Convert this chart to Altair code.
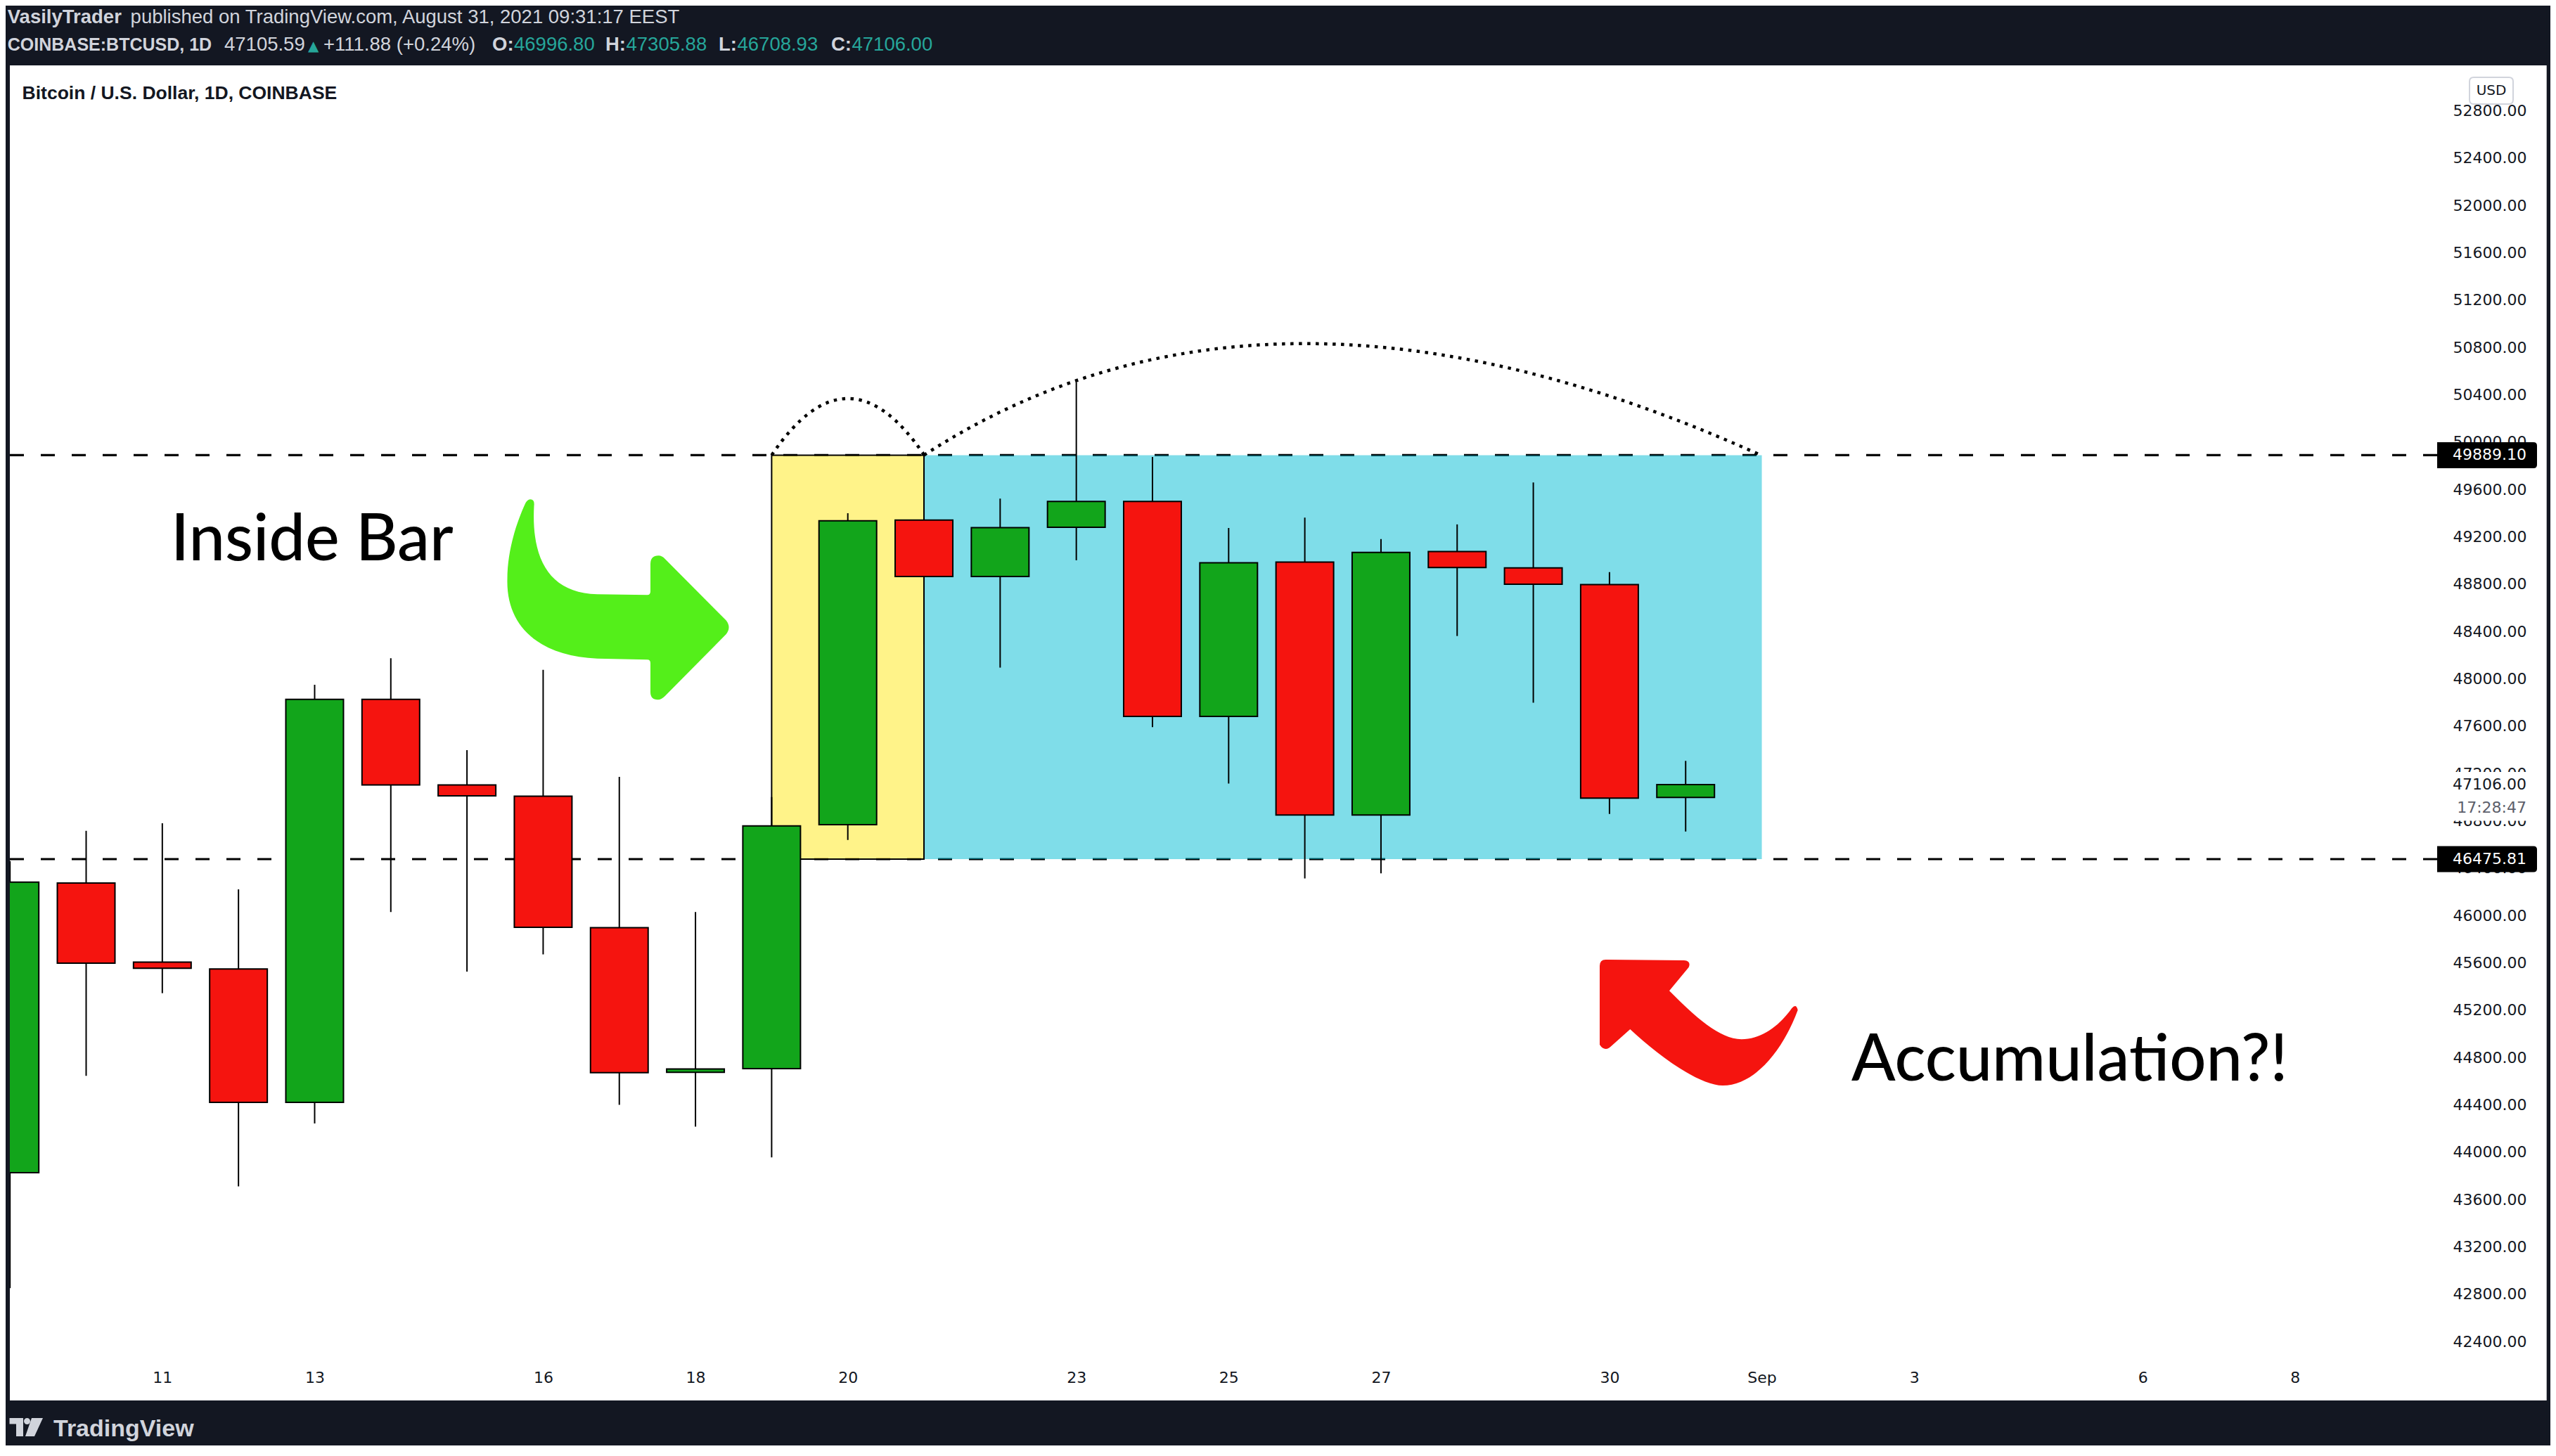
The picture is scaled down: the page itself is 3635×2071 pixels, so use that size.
import altair as alt
import pandas as pd

# ---------------- data ----------------
days = list(range(9, 32))  # August 2021, day of month
opens = [43826, 46274, 45605, 45548, 44420, 47826, 47103, 47007, 45896, 44675, 44706,
         46767, 49340, 48864, 49280, 49498, 47682, 48986, 46849, 49074, 48937, 48795, 46996.80]
highs = [46460, 46715, 46779, 46220, 47949, 48173, 47396, 48075, 47171, 46029, 47000,
         49398, 49780, 49522, 50507, 49874, 49274, 49361, 49180, 49304, 49659, 48901, 47305.88]
lows = [42850, 44645, 45343, 43710, 44242, 46029, 45525, 45671, 44399, 44215, 43956,
        46637, 48290, 48094, 49001, 47591, 47115, 46313, 46355, 48361, 47797, 46858, 46708.93]
closes = [46281, 45596, 45554, 44420, 47826, 47103, 47011, 45900, 44672, 44703, 46756,
          49334, 48864, 49276, 49498, 47682, 48980, 46849, 49067, 48940, 48798, 46991, 47106.00]

level_prices = [49889.10, 46475.81]
level_labels = ["49889.10", "46475.81"]
last_price = 47106.00
last_label = "47106.00"
countdown = "17:28:47"

yellow_box = {"x0": [19], "x1": [21], "y0": [46475.81], "y1": [49889.10]}
cyan_box = {"x0": [21], "x1": [32], "y0": [46475.81], "y1": [49889.10]}
arc_small_anchor = {"day": [19], "price": [49889.10]}
arc_big_anchor = {"day": [21], "price": [49889.10]}

x_tick_values = [11, 13, 16, 18, 20, 23, 25, 27, 30, 32, 34, 37, 39]
y_tick_values = list(range(42400, 53200, 400))

header_1_bold = "VasilyTrader"
header_1_rest = "published on TradingView.com, August 31, 2021 09:31:17 EEST"
header_2_symbol = "COINBASE:BTCUSD, 1D"
header_2_price = "47105.59"
header_2_change = "+111.88 (+0.24%)"
ohlc_keys = ["O:", "H:", "L:", "C:"]
ohlc_vals = ["46996.80", "47305.88", "46708.93", "47106.00"]
title_text = "Bitcoin / U.S. Dollar, 1D, COINBASE"
note_inside = "Inside Bar"
note_accum = "Accumulation?!"

# ---------------- styling ----------------
W, H = 3619, 2048
DARK = "#131722"
LIGHT = "#d1d4dc"
TEAL = "#26a69a"
UP = "#12a51b"
DOWN = "#f5140f"

xs = alt.Scale(domain=[8.989, 42.307], nice=False, zero=False)
ys = alt.Scale(domain=[41521.5, 53687.4], nice=False, zero=False)

xa = alt.Axis(orient="bottom", values=x_tick_values,
              labelExpr="datum.value == 32 ? 'Sep' : (datum.value > 31 ? toString(datum.value - 31) : toString(datum.value))",
              offset=-97, ticks=False, tickSize=0, domain=False, grid=False,
              labelBaseline="middle", labelPadding=0, labelFont="DejaVu Sans",
              labelFontSize=22, labelColor=DARK, title=None, labelFlush=False,
              labelOverlap=False)
ya = alt.Axis(orient="right", values=y_tick_values, format=".2f", offset=-34,
              ticks=False, tickSize=0, domain=False, grid=False, labelAlign="right",
              labelBaseline="middle", labelPadding=0, labelFont="DejaVu Sans",
              labelFontSize=22, labelColor=DARK, title=None, labelOverlap=False,
              labelFlush=False)

df = pd.DataFrame({"day": days, "open": opens, "high": highs, "low": lows, "close": closes})
df["color"] = [UP if c >= o else DOWN for o, c in zip(opens, closes)]


def X(f):
    return alt.X(f, scale=xs, axis=xa)


def Y(f):
    return alt.Y(f, scale=ys, axis=ya)


def txt(s, x, y, size, color, weight="normal", font="Liberation Sans",
        align="left", baseline="alphabetic"):
    return alt.Chart(pd.DataFrame({"t": [s]})).mark_text(
        align=align, baseline=baseline, font=font, fontSize=size,
        fontWeight=weight, color=color).encode(text="t:N", x=alt.value(x), y=alt.value(y))


def band(x0, x1, y0, y1, color):
    return alt.Chart(pd.DataFrame({"a": [0]})).mark_rect(color=color).encode(
        x=alt.value(x0), x2=alt.value(x1), y=alt.value(y0), y2=alt.value(y1))


layers = []

# dashed levels
lv = pd.DataFrame({"price": level_prices, "label": level_labels})
layers.append(alt.Chart(lv).mark_rule(color="black", strokeWidth=3.2, strokeDash=[20, 24]).encode(
    y=Y("price:Q"), x=alt.value(6), x2=alt.value(3458)))

# boxes
layers.append(alt.Chart(pd.DataFrame(cyan_box)).mark_rect(fill="#00bcd4", fillOpacity=0.5).encode(
    x=X("x0:Q"), x2="x1:Q", y=Y("y0:Q"), y2="y1:Q"))
layers.append(alt.Chart(pd.DataFrame(yellow_box)).mark_rect(
    fill="#ffeb3b", fillOpacity=0.6, stroke="black", strokeWidth=2).encode(
    x=X("x0:Q"), x2="x1:Q", y=Y("y0:Q"), y2="y1:Q"))

# candles
layers.append(alt.Chart(df).mark_rule(color="black", strokeWidth=2).encode(
    x=X("day:Q"), y=Y("low:Q"), y2="high:Q"))
layers.append(alt.Chart(df).mark_bar(width=82, stroke="black", strokeWidth=2).encode(
    x=X("day:Q"), y=Y("open:Q"), y2="close:Q", fill=alt.Fill("color:N", scale=None)))

# dotted arcs
ARC_SMALL = "M 0 0 Q 108.5 -161 217 0"
ARC_BIG = "M 0 0 Q 488.5 -317.4 1190 0"
for anchor, path in ((arc_small_anchor, ARC_SMALL), (arc_big_anchor, ARC_BIG)):
    layers.append(alt.Chart(pd.DataFrame(anchor)).mark_point(
        shape=path, size=4, filled=False, stroke="black", strokeWidth=4.5,
        strokeDash=[4.5, 7.5], opacity=1).encode(x=X("day:Q"), y=Y("price:Q")))

# arrows
GREEN_ARROW = ("M -125 -143 Q -119 -143 -120 -134 C -124 -60 -100 -10 -30 -8 L 41 -7 "
               "Q 45.5 -7 45.5 -12 L 45.5 -51 Q 45.5 -63 57 -63 Q 62 -63 66 -58.5 L 153 29 "
               "Q 161 39 153 49 L 66 137 Q 61 142 56 142 Q 45.5 142 45.5 131 L 45.5 90 "
               "Q 45.5 85 41 85 L -30 83.4 C -110 80 -160 40 -158 -30 "
               "C -158 -70 -145 -110 -132 -138 Q -129 -143 -125 -143 Z")
RED_ARROW = ("M -132 -89 L -20.5 -88 Q -10 -87 -14 -78 L -41.5 -44.7 C -5 -8 30 24 61.2 24.3 "
             "C 90 24 115 5 132.8 -20 Q 139 -27 141.2 -17.3 C 120 40 80 90 34.5 90 "
             "C 0 90 -60 45 -97.2 10 L -125.5 35.3 Q -134 42 -140.5 32 L -140.5 -80 "
             "Q -140.5 -89 -132 -89 Z")
for path, col, px, py in ((GREEN_ARROW, "#54ef1a", 871.5, 845.3), (RED_ARROW, DOWN, 2407.5, 1446)):
    layers.append(alt.Chart(pd.DataFrame({"a": [0]})).mark_point(
        shape=path, size=4, filled=True, fill=col, strokeWidth=0, opacity=1).encode(
        x=alt.value(px), y=alt.value(py)))

# annotation texts
layers.append(txt(note_inside, 235, 789, 92, "black", weight=500, font="Lato"))
layers.append(txt(note_accum, 2625, 1529, 92, "black", weight=500, font="Lato"))
layers.append(txt(title_text, 23.6, 132.7, 26.5, DARK, weight="bold"))

# price tags
BLACK_TAG = "M -71 -18.5 L 66 -18.5 Q 71 -18.5 71 -13.5 L 71 13.5 Q 71 18.5 66 18.5 L -71 18.5 Z"
WHITE_TAG = "M -71 -18 L 71 -18 L 71 51.5 L -71 51.5 Z"
lp = pd.DataFrame({"price": [last_price], "label": [last_label], "cd": [countdown]})
layers.append(alt.Chart(lp).mark_point(shape=WHITE_TAG, size=4, filled=True, fill="white",
                                       strokeWidth=0, opacity=1).encode(
    x=alt.value(3529), y=Y("price:Q")))
layers.append(alt.Chart(lp).mark_text(align="right", baseline="middle", font="DejaVu Sans",
                                      fontSize=22, color=DARK).encode(
    x=alt.value(3585), y=Y("price:Q"), text="label:N"))
layers.append(alt.Chart(lp).mark_text(align="right", baseline="middle", font="DejaVu Sans",
                                      fontSize=22, color="#5d606b", dy=33).encode(
    x=alt.value(3585), y=Y("price:Q"), text="cd:N"))
layers.append(alt.Chart(lv).mark_point(shape=BLACK_TAG, size=4, filled=True, fill="black",
                                       strokeWidth=0, opacity=1).encode(
    x=alt.value(3529), y=Y("price:Q")))
layers.append(alt.Chart(lv).mark_text(align="right", baseline="middle", font="DejaVu Sans",
                                      fontSize=22, color="white").encode(
    x=alt.value(3585), y=Y("price:Q"), text="label:N"))

# USD box
USD_BOX = ("M -25 -19 L 25 -19 Q 31 -19 31 -13 L 31 13 Q 31 19 25 19 L -25 19 "
           "Q -31 19 -31 13 L -31 -13 Q -31 -19 -25 -19 Z")
layers.append(alt.Chart(pd.DataFrame({"a": [0]})).mark_point(
    shape=USD_BOX, size=4, filled=True, fill="white", stroke=LIGHT, strokeWidth=2,
    opacity=1).encode(x=alt.value(3535), y=alt.value(121)))
layers.append(txt("USD", 3535, 121, 20, DARK, align="center", baseline="middle", font="DejaVu Sans"))

# dark frame
layers.append(band(0, W, 0, 85, DARK))
layers.append(band(0, W, 1984, H, DARK))
layers.append(band(0, 6, 0, H, DARK))
layers.append(band(3613.7, W, 0, H, DARK))

# header
HS = 27.5
layers.append(txt(header_1_bold, 2.8, 25.3, HS, LIGHT, weight="bold"))
layers.append(txt(header_1_rest, 177.6, 25.3, HS, LIGHT))
layers.append(txt(header_2_symbol, 2.8, 63.7, 25, LIGHT, weight="bold"))
layers.append(txt(header_2_price, 311, 63.7, HS, LIGHT))
layers.append(txt("▲", 430, 63.7, 20, TEAL, font="DejaVu Sans"))
layers.append(txt(header_2_change, 452, 63.7, HS, LIGHT))
for k, v, kx, vx in zip(ohlc_keys, ohlc_vals, [692, 853, 1014, 1174], [723, 882.5, 1040.5, 1203.5]):
    layers.append(txt(k, kx, 63.7, HS, LIGHT, weight="bold"))
    layers.append(txt(v, vx, 63.7, HS, TEAL))

# TradingView logo
TV_ICON = ("M -23.5 -13 L -4 -13 L -4 13 L -14 13 L -14 -4.5 L -23.5 -4.5 Z "
           "M -3 -8.5 A 4.5 4.5 0 1 0 6 -8.5 A 4.5 4.5 0 1 0 -3 -8.5 Z "
           "M 8 -13 L 24 -13 L 12 13 L -1 13 Z")
layers.append(alt.Chart(pd.DataFrame({"a": [0]})).mark_point(
    shape=TV_ICON, size=4, filled=True, fill=LIGHT, strokeWidth=0, opacity=1).encode(
    x=alt.value(29), y=alt.value(2022)))
layers.append(txt("TradingView", 68, 2035, 34, LIGHT, weight="bold"))

chart = alt.layer(*layers).properties(
    width=W, height=H, autosize=alt.AutoSizeParams(type="none"), padding=0,
    background="white").configure_view(stroke=None)

chart.save("out.html", embed_options={"renderer": "svg", "actions": False})
